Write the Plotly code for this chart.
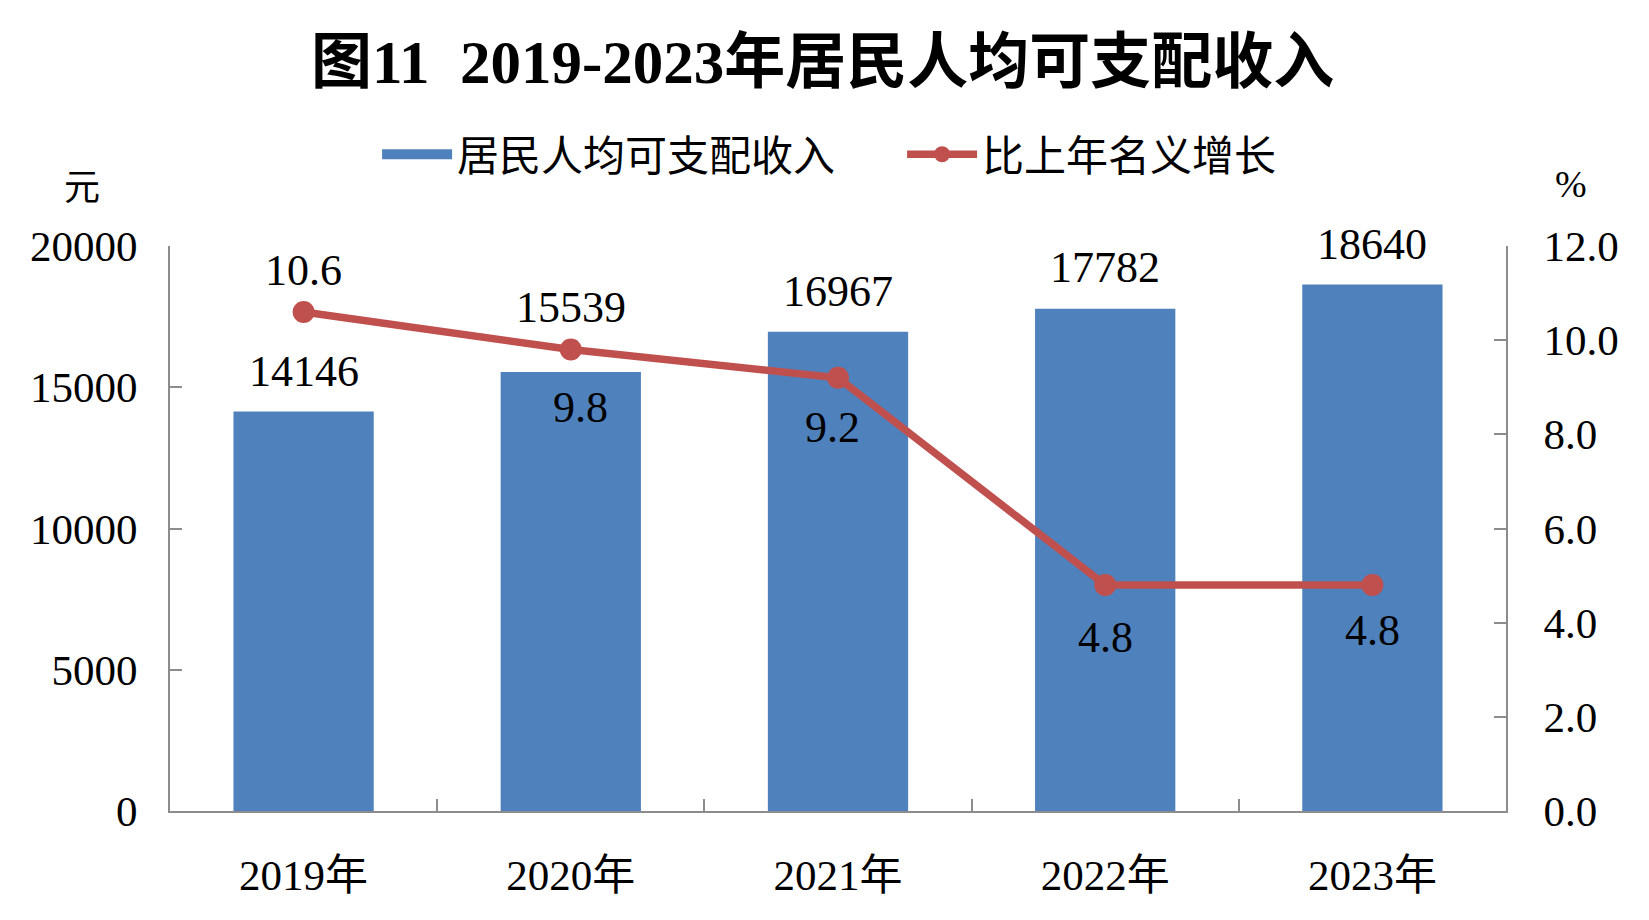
import plotly.graph_objects as go

# data
years = ["2019年", "2020年", "2021年", "2022年", "2023年"]
income = [14146, 15539, 16967, 17782, 18640]
growth = [10.6, 9.8, 9.2, 4.8, 4.8]

# label offsets in pixels (style only)
income_label_shift = [-40, -65, -40, -41, -40]
growth_label_shift = [-41, 58, 50, 52, 45]
growth_label_xshift = [0, 10, -6, 0, 0]

BLUE = "#4F81BD"
RED = "#C0504D"
SERIF = "Liberation Serif, Times New Roman, Noto Sans CJK SC, serif"
AXIS_GRAY = "#8C8C8C"

fig = go.Figure()

fig.add_trace(go.Bar(
    x=years, y=income, name="居民人均可支配收入",
    marker=dict(color=BLUE, line=dict(width=0)),
    yaxis="y", showlegend=False,
))

# legend-only entry so the bar swatch is a wide block like the original
fig.add_trace(go.Scatter(
    x=[None], y=[None], name="居民人均可支配收入",
    mode="lines", line=dict(color=BLUE, width=18),
    yaxis="y", hoverinfo="skip",
))

fig.add_trace(go.Scatter(
    x=years, y=growth, name="比上年名义增长",
    mode="lines+markers",
    line=dict(color=RED, width=7.5),
    marker=dict(color=RED, size=22),
    yaxis="y2",
))

annotations = []
for yr, v, dy in zip(years, income, income_label_shift):
    annotations.append(dict(
        x=yr, y=v, xref="x", yref="y", text=str(v), showarrow=False,
        yshift=-dy, font=dict(family=SERIF, size=44, color="#000000"),
    ))
for yr, v, dy, dx in zip(years, growth, growth_label_shift, growth_label_xshift):
    annotations.append(dict(
        x=yr, y=v, xref="x", yref="y2", text=f"{v:.1f}", showarrow=False,
        yshift=-dy, xshift=dx, font=dict(family=SERIF, size=44, color="#000000"),
    ))

# axis unit labels
annotations.append(dict(x=-0.066, y=1.11, xref="paper", yref="paper", text="元",
                        xanchor="center", yanchor="middle", showarrow=False,
                        font=dict(family="Noto Sans CJK SC", size=36, color="#000000")))
annotations.append(dict(x=1.049, y=1.11, xref="paper", yref="paper", text="%",
                        xanchor="center", yanchor="middle", showarrow=False,
                        font=dict(family=SERIF, size=38, color="#000000")))

fig.update_layout(
    width=1649, height=920,
    paper_bgcolor="white", plot_bgcolor="white",
    margin=dict(l=162, r=151, t=238, b=117),
    title=dict(
        text="<b>图11  2019-2023年居民人均可支配收入</b>",
        x=0.494, xanchor="center", y=0.942, yanchor="middle",
        font=dict(family="Liberation Serif, Noto Sans CJK SC, serif", size=61, color="#000000"),
    ),
    bargap=0.475,
    showlegend=True,
    legend=dict(
        orientation="h", x=0.155, xanchor="left", y=1.162, yanchor="middle",
        font=dict(family="Noto Sans CJK SC", size=42, color="#000000"),
        itemwidth=70, entrywidth=440, bgcolor="rgba(0,0,0,0)",
    ),
    xaxis=dict(
        showline=True, linecolor=AXIS_GRAY, linewidth=2,
        ticks="inside", ticklen=12, tickcolor=AXIS_GRAY, tickwidth=2,
        tickson="boundaries", ticklabelstandoff=25,
        tickfont=dict(family=SERIF, size=43, color="#000000"),
        showgrid=False, zeroline=False,
    ),
    yaxis=dict(
        range=[0, 20000], dtick=5000, tickformat="d",
        showline=True, linecolor=AXIS_GRAY, linewidth=2,
        ticks="inside", ticklen=12, tickcolor=AXIS_GRAY, tickwidth=2,
        ticklabelstandoff=22,
        tickfont=dict(family=SERIF, size=43, color="#000000"),
        showgrid=False, zeroline=False,
    ),
    yaxis2=dict(
        range=[0, 12], dtick=2, tickformat=".1f",
        overlaying="y", side="right",
        showline=True, linecolor=AXIS_GRAY, linewidth=2,
        ticks="inside", ticklen=12, tickcolor=AXIS_GRAY, tickwidth=2,
        ticklabelstandoff=27,
        tickfont=dict(family=SERIF, size=43, color="#000000"),
        showgrid=False, zeroline=False,
    ),
    annotations=annotations,
)

fig.write_html("out.html")
